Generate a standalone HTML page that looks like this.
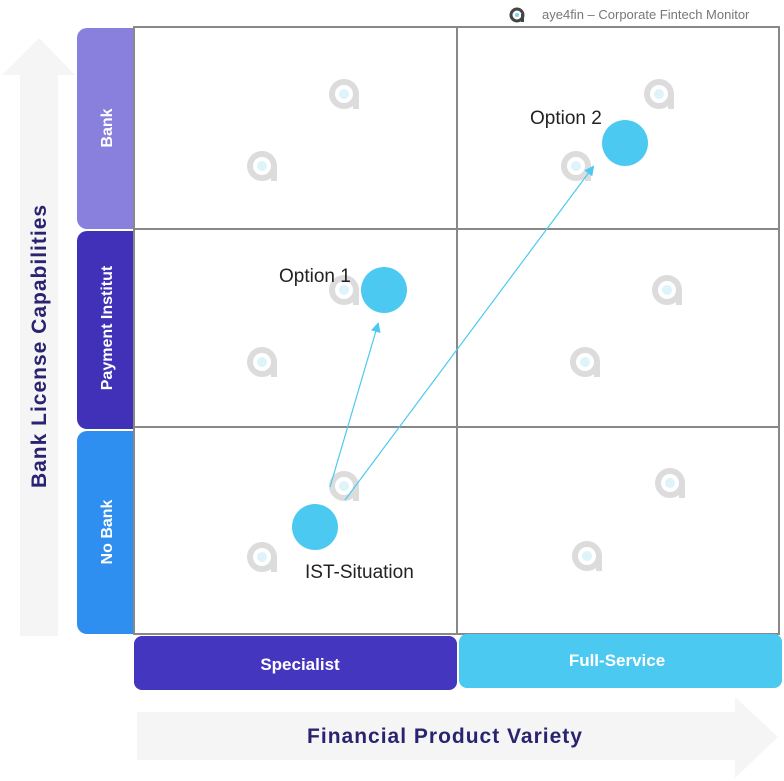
<!DOCTYPE html>
<html><head><style>
body{margin:0;width:784px;height:781px;background:#fff;overflow:hidden;font-family:"Liberation Sans",sans-serif;}
</style></head><body>
<svg width="784" height="781" xmlns="http://www.w3.org/2000/svg" style="position:absolute;left:0;top:0">
<defs>
<g id="wm"><circle cx="0" cy="0" r="12" fill="none" stroke="#dcdcdc" stroke-width="6"/><rect x="9" y="-2" width="6" height="17" fill="#dcdcdc"/><circle cx="0" cy="0" r="5" fill="#dff3fb"/></g>
<marker id="ah" markerWidth="10" markerHeight="10" refX="8" refY="5" orient="auto" markerUnits="userSpaceOnUse"><path d="M0,0 L10,5 L0,10 z" fill="#4cc9f0"/></marker>
</defs>
<polygon points="20,636 58,636 58,75 75,75 39,38 2,75 20,75" fill="#f5f5f5"/>
<text transform="translate(46,346) rotate(-90)" text-anchor="middle" font-size="21" font-weight="bold" letter-spacing="1" fill="#2a2470">Bank License Capabilities</text>
<polygon points="137,712 735,712 735,697 778,737 735,778 735,760 137,760" fill="#f5f5f5"/>
<text x="445" y="743" text-anchor="middle" font-size="21" font-weight="bold" letter-spacing="1" fill="#2a2470">Financial Product Variety</text>
<circle cx="517" cy="15" r="6" fill="none" stroke="#444" stroke-width="3"/><rect x="521" y="14" width="3" height="8" fill="#444"/><circle cx="517" cy="15" r="2" fill="#7fd3ef"/>
<text x="542" y="19" font-size="13" fill="#777">aye4fin – Corporate Fintech Monitor</text>
<rect x="77" y="28" width="70" height="201" rx="10" fill="#8880dc"/>
<rect x="77" y="231" width="70" height="198" rx="10" fill="#4031b8"/>
<rect x="77" y="431" width="70" height="203" rx="10" fill="#2f8ff0"/>
<text transform="translate(112,128) rotate(-90)" text-anchor="middle" font-size="16" font-weight="bold" fill="#fff">Bank</text>
<text transform="translate(112,328) rotate(-90)" text-anchor="middle" font-size="16" font-weight="bold" fill="#fff">Payment Institut</text>
<text transform="translate(112,532) rotate(-90)" text-anchor="middle" font-size="16" font-weight="bold" fill="#fff">No Bank</text>
<rect x="134" y="27" width="645" height="607" fill="#fff" stroke="#888" stroke-width="2"/>
<line x1="457" y1="27" x2="457" y2="634" stroke="#888" stroke-width="2"/>
<line x1="134" y1="229" x2="779" y2="229" stroke="#888" stroke-width="2"/>
<line x1="134" y1="427" x2="779" y2="427" stroke="#888" stroke-width="2"/>
<rect x="134" y="636" width="323" height="54" rx="8" fill="#4536c0"/>
<rect x="459" y="634" width="323" height="54" rx="8" fill="#4cc9f0"/>
<text x="300" y="670" text-anchor="middle" font-size="17" font-weight="bold" fill="#fff">Specialist</text>
<text x="617" y="666" text-anchor="middle" font-size="17" font-weight="bold" fill="#fff">Full-Service</text>
<use href="#wm" x="344" y="94"/><use href="#wm" x="262" y="166"/><use href="#wm" x="659" y="94"/><use href="#wm" x="576" y="166"/>
<use href="#wm" x="344" y="290"/><use href="#wm" x="667" y="290"/><use href="#wm" x="262" y="362"/><use href="#wm" x="585" y="362"/>
<use href="#wm" x="344" y="486"/><use href="#wm" x="670" y="483"/><use href="#wm" x="262" y="557"/><use href="#wm" x="587" y="556"/>
<line x1="330" y1="487" x2="378" y2="324" stroke="#4cc9f0" stroke-width="1.2" marker-end="url(#ah)"/>
<line x1="345" y1="500" x2="593" y2="167" stroke="#4cc9f0" stroke-width="1.2" marker-end="url(#ah)"/>
<circle cx="625" cy="143" r="23" fill="#4cc9f0"/>
<circle cx="384" cy="290" r="23" fill="#4cc9f0"/>
<circle cx="315" cy="527" r="23" fill="#4cc9f0"/>
<text x="530" y="124" font-size="19" fill="#222">Option 2</text>
<text x="279" y="282" font-size="19" fill="#222">Option 1</text>
<text x="305" y="578" font-size="19" fill="#222">IST-Situation</text>
</svg>
</body></html>
